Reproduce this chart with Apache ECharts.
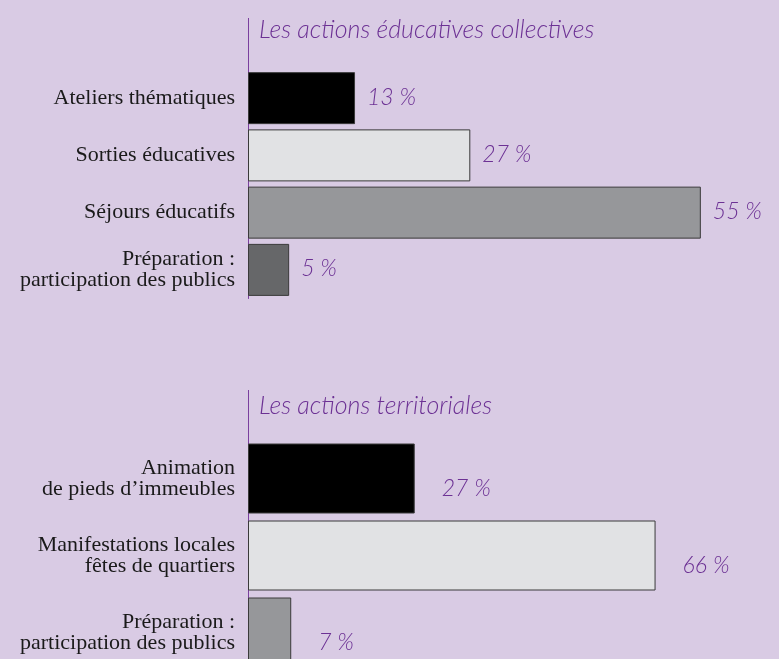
<!DOCTYPE html>
<html>
<head>
<meta charset="utf-8">
<script src="https://cdn.jsdelivr.net/npm/echarts@6/dist/echarts.min.js"></script>
<style>
  html, body { margin: 0; padding: 0; background: #d9cbe4; }
  #chart { width: 779px; height: 659px; }
</style>
</head>
<body>
<div id="chart"></div>
<script>
// données : actions éducatives collectives
const educCategories = [
    "Ateliers thématiques",
    "Sorties éducatives",
    "Séjours éducatifs",
    "Préparation :\nparticipation des publics"
];
const educValues = [13, 27, 55, 5];
const educColors = ["#000000", "#e1e2e4", "#96979a", "#666769"];

// données : actions territoriales
const terrCategories = [
    "Animation\nde pieds d’immeubles",
    "Manifestations locales\nfêtes de quartiers",
    "Préparation :\nparticipation des publics"
];
const terrValues = [27, 66, 7];
const terrColors = ["#000000", "#e1e2e4", "#96979a"];

const purple = "#7a3f9e";
const scriptFont = {
    fontFamily: "Lato, 'DejaVu Sans'",
    fontWeight: 300,
    fontStyle: "italic",
    color: "#6c3194"
};

const chart = echarts.init(document.getElementById("chart"));

function barData(values, colors) {
    return values.map((v, i) => ({
        value: v,
        itemStyle: { color: colors[i], borderColor: "#3a3a3a", borderWidth: 1 }
    }));
}

const catLabel = {
    fontFamily: "Liberation Serif",
    fontSize: 22,
    color: "#1a1a1a",
    lineHeight: 21,
    margin: 13,
    align: "right"
};

const option = {
    backgroundColor: "#d9cbe4",
    animation: false,
    title: [
        { text: "Les actions éducatives collectives", left: 254, top: 12,
          textStyle: { ...scriptFont, fontSize: 25 } },
        { text: "Les actions territoriales", left: 254, top: 388,
          textStyle: { ...scriptFont, fontSize: 25 } }
    ],
    grid: [
        { left: 248, top: 69.5, width: 494, height: 229, outerBoundsMode: "none" },
        { left: 248, top: 440, width: 494, height: 231, outerBoundsMode: "none" }
    ],
    xAxis: [
        { gridIndex: 0, type: "value", min: 0, max: 60, show: false },
        { gridIndex: 1, type: "value", min: 0, max: 80, show: false }
    ],
    yAxis: [
        {
            gridIndex: 0, type: "category", inverse: true, data: educCategories,
            axisLine: { lineStyle: { color: purple, width: 1 } },
            axisTick: { show: false },
            axisLabel: catLabel
        },
        {
            gridIndex: 1, type: "category", inverse: true, data: terrCategories,
            axisLine: { lineStyle: { color: purple, width: 1 } },
            axisTick: { show: false },
            axisLabel: catLabel
        }
    ],
    graphic: [
        { type: "line", shape: { x1: 248.5, y1: 18, x2: 248.5, y2: 70 },
          style: { stroke: purple, lineWidth: 1 } },
        { type: "line", shape: { x1: 248.5, y1: 390, x2: 248.5, y2: 440 },
          style: { stroke: purple, lineWidth: 1 } }
    ],
    series: [
        {
            type: "bar", xAxisIndex: 0, yAxisIndex: 0,
            data: barData(educValues, educColors),
            barWidth: 52,
            label: {
                show: true, position: "right", distance: 12, offset: [0, -1],
                formatter: "{c} %", ...scriptFont, fontSize: 23
            }
        },
        {
            type: "bar", xAxisIndex: 1, yAxisIndex: 1,
            data: barData(terrValues, terrColors),
            barWidth: 70,
            label: {
                show: true, position: "right", distance: 27, offset: [0, 10],
                formatter: "{c} %", ...scriptFont, fontSize: 23
            }
        }
    ]
};

chart.setOption(option);
</script>
</body>
</html>
